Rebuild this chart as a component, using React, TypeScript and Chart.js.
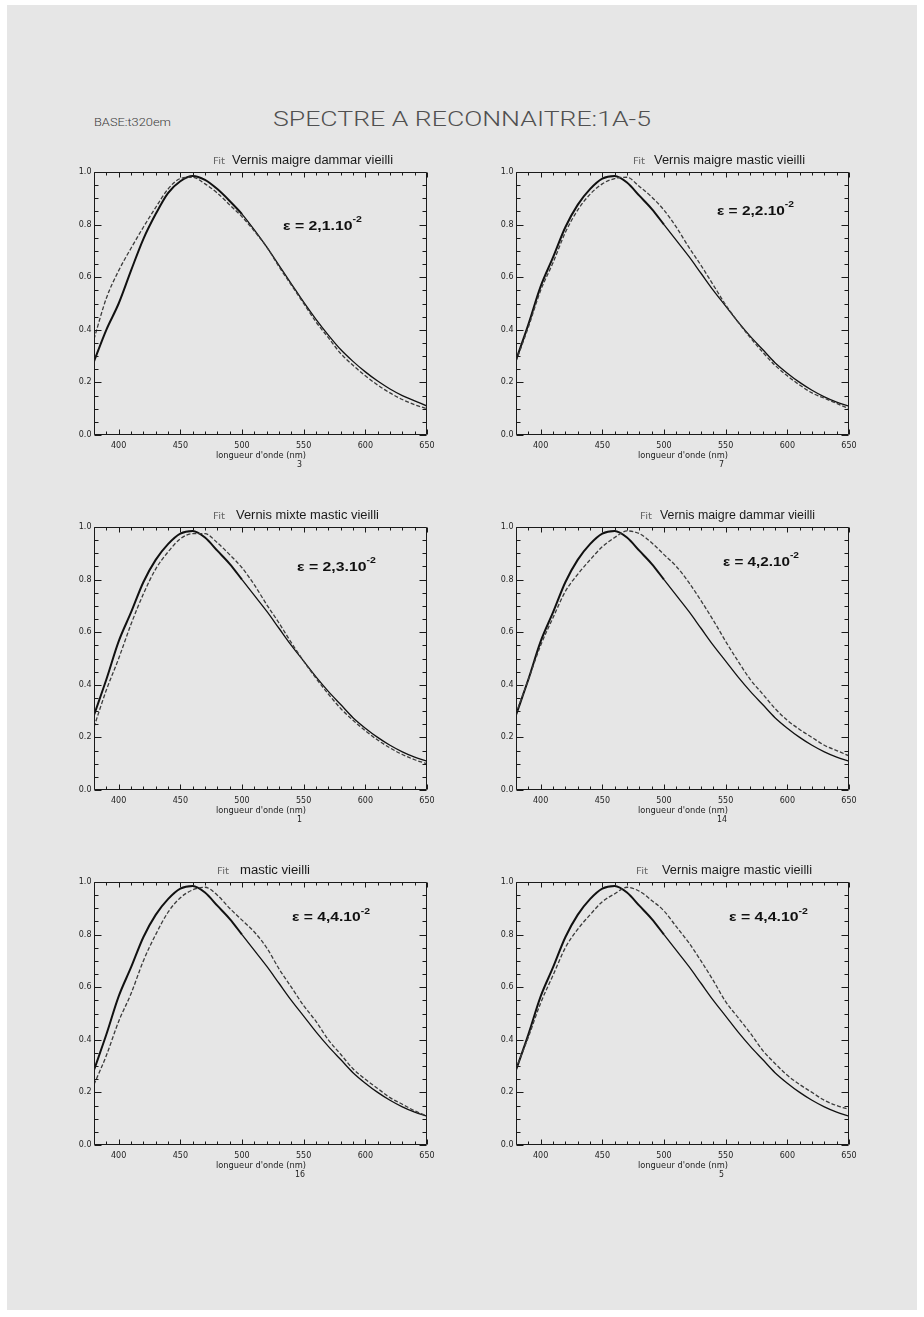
import React, { useEffect, useLayoutEffect, useRef } from "react";
import { Chart, registerables } from "chart.js";

Chart.register(...registerables);

// ---------- data ----------
const wavelengths = [380, 390, 400, 410, 420, 430, 440, 450, 460, 470, 480, 490, 500, 510, 520, 530, 540, 550, 560, 570, 580, 590, 600, 610, 620, 630, 640, 650];

const xTickLabels = [400, 450, 500, 550, 600, 650];
const yTickLabels = [0.0, 0.2, 0.4, 0.6, 0.8, 1.0];

// spectrum to recognise (1A-5), solid curve
const spectre1A5 = [0.285, 0.42, 0.565, 0.675, 0.79, 0.875, 0.935, 0.975, 0.985, 0.96, 0.91, 0.86, 0.8, 0.74, 0.68, 0.615, 0.55, 0.49, 0.43, 0.375, 0.325, 0.275, 0.235, 0.2, 0.17, 0.145, 0.125, 0.11];
const spectre1A5Panel1 = [0.28, 0.4, 0.5, 0.625, 0.745, 0.84, 0.92, 0.965, 0.985, 0.97, 0.935, 0.89, 0.84, 0.78, 0.715, 0.645, 0.575, 0.505, 0.44, 0.38, 0.325, 0.28, 0.24, 0.205, 0.175, 0.15, 0.13, 0.11];

// base spectra, dashed curves
const base3 = [0.365, 0.52, 0.625, 0.71, 0.79, 0.865, 0.935, 0.975, 0.98, 0.955, 0.92, 0.875, 0.83, 0.775, 0.715, 0.64, 0.57, 0.5, 0.43, 0.37, 0.31, 0.265, 0.225, 0.19, 0.16, 0.135, 0.115, 0.1];
const base7 = [0.28, 0.41, 0.55, 0.655, 0.77, 0.855, 0.915, 0.955, 0.975, 0.98, 0.945, 0.905, 0.855, 0.79, 0.715, 0.645, 0.57, 0.495, 0.43, 0.37, 0.315, 0.265, 0.225, 0.19, 0.16, 0.14, 0.12, 0.1];
const base1 = [0.24, 0.38, 0.5, 0.63, 0.745, 0.84, 0.905, 0.955, 0.975, 0.975, 0.94, 0.895, 0.845, 0.78, 0.705, 0.635, 0.56, 0.49, 0.425, 0.365, 0.31, 0.265, 0.225, 0.19, 0.16, 0.135, 0.115, 0.1];
const base14 = [0.29, 0.42, 0.55, 0.655, 0.755, 0.82, 0.875, 0.925, 0.96, 0.985, 0.975, 0.94, 0.895, 0.85, 0.79, 0.72, 0.645, 0.565, 0.49, 0.42, 0.365, 0.31, 0.265, 0.23, 0.2, 0.17, 0.15, 0.13];
const base16 = [0.23, 0.34, 0.47, 0.575, 0.7, 0.8, 0.885, 0.94, 0.97, 0.98, 0.95, 0.9, 0.855, 0.81, 0.75, 0.67, 0.6, 0.53, 0.47, 0.4, 0.345, 0.29, 0.25, 0.215, 0.18, 0.155, 0.13, 0.11];
const base5 = [0.29, 0.41, 0.54, 0.645, 0.75, 0.82, 0.875, 0.925, 0.955, 0.98, 0.965, 0.93, 0.89, 0.83, 0.77, 0.7, 0.625, 0.545, 0.485, 0.425, 0.36, 0.31, 0.265, 0.23, 0.2, 0.17, 0.15, 0.135];

const panelNames = [
  "Vernis maigre dammar vieilli",
  "Vernis maigre mastic vieilli",
  "Vernis mixte mastic vieilli",
  "Vernis maigre dammar vieilli",
  "mastic vieilli",
  "Vernis maigre mastic vieilli",
];
const panelNumbers = ["3", "7", "1", "14", "16", "5"];
const epsMantissa = ["2,1", "2,2", "2,3", "4,2", "4,4", "4,4"];
const epsExponent = "-2";
const solidSeries = [spectre1A5Panel1, spectre1A5, spectre1A5, spectre1A5, spectre1A5, spectre1A5];
const dashedSeries = [base3, base7, base1, base14, base16, base5];

const pageTitle = "SPECTRE A RECONNAITRE:1A-5";
const baseLabel = "BASE:t320em";
const xAxisTitle = "longueur d'onde (nm)";
const fitLabel = "Fit";

// ---------- layout ----------
const COL_X = [94, 516];
const ROW_Y = [172, 527, 882];
const PW = 333;
const PH = 263;
const PAD = { left: 30, right: 10, top: 10, bottom: 20 };
const titleOffsets = [
  { fit: 119, name: 138, w: 161 },
  { fit: 117, name: 138, w: 151 },
  { fit: 119, name: 142, w: 143 },
  { fit: 124, name: 144, w: 155 },
  { fit: 123, name: 146, w: 70 },
  { fit: 120, name: 146, w: 150 },
];
const epsOffsets = [
  { x: 189, y: 58, w: 79 },
  { x: 201, y: 43, w: 77 },
  { x: 203, y: 44, w: 79 },
  { x: 207, y: 39, w: 76 },
  { x: 198, y: 39.5, w: 78 },
  { x: 213, y: 39.5, w: 79 },
];

const TICK_FONT = '8px "DejaVu Sans"';

const idlAxes = {
  id: "idlAxes",
  afterDraw(chart: any) {
    const { ctx, chartArea: a, scales } = chart;
    const xs = scales.x;
    const ys = scales.y;
    ctx.save();
    ctx.strokeStyle = "#1a1a1a";
    ctx.lineWidth = 1;
    const L = Math.round(a.left) + 0.5;
    const R = Math.round(a.right) - 0.5;
    const T = Math.round(a.top) + 0.5;
    const B = Math.round(a.bottom) - 0.5;
    ctx.beginPath();
    ctx.rect(L, T, R - L, B - T);
    ctx.stroke();
    ctx.beginPath();
    for (let v = xs.min; v <= xs.max + 1e-6; v += 10) {
      const px = Math.round(xs.getPixelForValue(v)) + 0.5;
      const major = v % 50 === 0;
      const len = major ? 5 : 3;
      ctx.moveTo(px, B);
      ctx.lineTo(px, B - len);
      ctx.moveTo(px, T);
      ctx.lineTo(px, T + len);
    }
    for (let i = 0; i <= 20; i++) {
      const v = i * 0.05;
      const py = Math.round(ys.getPixelForValue(v)) + 0.5;
      const major = i % 4 === 0;
      const len = major ? 7 : 4;
      ctx.moveTo(L, py);
      ctx.lineTo(L + len, py);
      ctx.moveTo(R, py);
      ctx.lineTo(R - len, py);
    }
    ctx.stroke();
    ctx.fillStyle = "#1e1e1e";
    ctx.font = TICK_FONT;
    ctx.textAlign = "center";
    ctx.textBaseline = "middle";
    xTickLabels.forEach((v) => {
      ctx.fillText(String(v), xs.getPixelForValue(v), B + 11);
    });
    ctx.textAlign = "right";
    yTickLabels.forEach((v) => {
      ctx.fillText(v.toFixed(1), L - 3, ys.getPixelForValue(v));
    });
    ctx.restore();
  },
};

function Panel({ idx }: { idx: number }) {
  const ref = useRef<HTMLCanvasElement>(null);
  useEffect(() => {
    if (!ref.current) return;
    const thick = (c: any) => (c.p0.parsed.x < 500 ? 2 : 1.3);
    const chart = new Chart(ref.current, {
      type: "line",
      data: {
        labels: wavelengths,
        datasets: [
          {
            data: wavelengths.map((w, i) => ({ x: w, y: dashedSeries[idx][i] })),
            borderColor: "#3c3c3c",
            borderWidth: 1.3,
            borderDash: [4, 2],
            pointRadius: 0,
            tension: 0.4,
            cubicInterpolationMode: "monotone",
            fill: false,
          },
          {
            data: wavelengths.map((w, i) => ({ x: w, y: solidSeries[idx][i] })),
            borderColor: "#111111",
            borderWidth: 1.3,
            pointRadius: 0,
            tension: 0.4,
            cubicInterpolationMode: "monotone",
            fill: false,
            segment: { borderWidth: thick },
          },
        ],
      },
      options: {
        animation: false,
        responsive: false,
        maintainAspectRatio: false,
        devicePixelRatio: 1,
        layout: { padding: PAD },
        plugins: { legend: { display: false }, tooltip: { enabled: false }, title: { display: false } },
        scales: {
          x: { type: "linear", min: 380, max: 650, display: false },
          y: { type: "linear", min: 0, max: 1, display: false },
        },
        events: [],
      },
      plugins: [idlAxes],
    } as any);
    return () => chart.destroy();
  }, [idx]);
  const x0 = COL_X[idx % 2];
  const y0 = ROW_Y[Math.floor(idx / 2)];
  return (
    <canvas
      ref={ref}
      width={PW + PAD.left + PAD.right}
      height={PH + PAD.top + PAD.bottom}
      style={{
        position: "absolute",
        left: x0 - PAD.left,
        top: y0 - PAD.top,
        width: PW + PAD.left + PAD.right,
        height: PH + PAD.top + PAD.bottom,
      }}
    />
  );
}

function FitText(props: {
  x: number;
  baseline: number;
  width: number;
  size: number;
  family: string;
  weight?: number | string;
  color: string;
  children: React.ReactNode;
}) {
  const ref = useRef<HTMLSpanElement>(null);
  useLayoutEffect(() => {
    const fit = () => {
      const el = ref.current;
      if (!el) return;
      el.style.transform = "none";
      const w = el.getBoundingClientRect().width;
      if (w > 0) el.style.transform = `scaleX(${props.width / w})`;
    };
    fit();
    if ((document as any).fonts && (document as any).fonts.ready) {
      (document as any).fonts.ready.then(fit);
    }
  }, [props.width]);
  return (
    <span
      ref={ref}
      style={{
        position: "absolute",
        left: props.x,
        top: props.baseline - props.size * 0.85,
        fontSize: props.size,
        lineHeight: `${props.size}px`,
        fontFamily: props.family,
        fontWeight: props.weight ?? 400,
        color: props.color,
        whiteSpace: "nowrap",
        transformOrigin: "left top",
      }}
    >
      {props.children}
    </span>
  );
}

const SANS = '"Liberation Sans", Arial, sans-serif';
const HERSHEY = '"DejaVu Sans", sans-serif';

export default function App() {
  return (
    <div
      style={{
        position: "absolute",
        left: 0,
        top: 0,
        width: 924,
        height: 1317,
        background: "#ffffff",
        overflow: "hidden",
      }}
    >
      <div style={{ position: "absolute", left: 7, top: 5, width: 910, height: 1305, background: "#e6e6e6" }} />
      <FitText x={273} baseline={127} width={378} size={21} family='Roboto, "DejaVu Sans", sans-serif' weight={300} color="#505050">
        {pageTitle}
      </FitText>
      <FitText x={94} baseline={126} width={77} size={10} family='Roboto, "DejaVu Sans", sans-serif' weight={300} color="#3a3a3a">
        {baseLabel}
      </FitText>
      {panelNames.map((name, i) => {
        const x0 = COL_X[i % 2];
        const y0 = ROW_Y[Math.floor(i / 2)];
        const t = titleOffsets[i];
        const e = epsOffsets[i];
        const cx = x0 + PW / 2;
        return (
          <React.Fragment key={i}>
            <Panel idx={i} />
            <FitText x={x0 + t.fit} baseline={y0 - 7} width={12} size={8} family={HERSHEY} color="#666666">
              {fitLabel}
            </FitText>
            <FitText x={x0 + t.name} baseline={y0 - 7} width={t.w} size={12.5} family={SANS} color="#1a1a1a">
              {name}
            </FitText>
            <FitText x={x0 + e.x} baseline={y0 + e.y} width={e.w} size={13.5} family={SANS} weight={700} color="#111111">
              {"ε = " + epsMantissa[i] + ".10"}
              <sup style={{ fontSize: 9, lineHeight: 0, position: "relative", top: -2 }}>{epsExponent}</sup>
            </FitText>
            <FitText x={cx - 45} baseline={y0 + PH + 24} width={90} size={8} family={HERSHEY} color="#222222">
              {xAxisTitle}
            </FitText>
            <FitText
              x={cx + 39 - (panelNumbers[i].length * 5) / 2}
              baseline={y0 + PH + 33}
              width={panelNumbers[i].length * 5}
              size={8}
              family={HERSHEY}
              color="#222222"
            >
              {panelNumbers[i]}
            </FitText>
          </React.Fragment>
        );
      })}
    </div>
  );
}
